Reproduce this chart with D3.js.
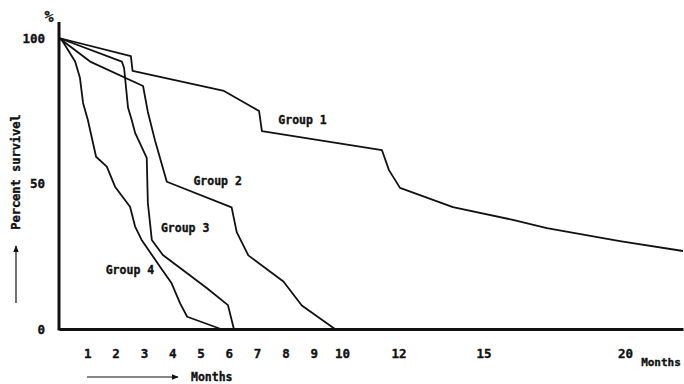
<!DOCTYPE html>
<html>
<head>
<meta charset="utf-8">
<script src="https://cdn.jsdelivr.net/npm/d3@7"></script>
<style>
  html, body { margin: 0; padding: 0; background: #fff; }
  svg { display: block; }
  text { font-family: "DejaVu Sans Mono", "Liberation Mono", monospace; font-weight: bold; fill: #111; stroke: #111; stroke-width: 0.35px; }
</style>
</head>
<body>
<svg id="chart" width="684" height="384"></svg>
<script>
// Survival curves: [month, percent surviving]
const group1 = [[0,100],[2.54,93.8],[2.6,88.7],[5.83,81.8],[7.07,74.9],[7.17,68.0],[11.41,61.5],[11.66,54.6],[12.05,48.5],[13.92,41.9],[16.04,37.5],[17.24,34.7],[19.82,30.2],[22.05,26.8]];
const group2 = [[0,100],[1.10,91.9],[2.97,83.5],[3.14,74.6],[3.39,64.9],[3.81,50.6],[6.10,41.8],[6.28,33.3],[6.69,25.3],[7.93,16.3],[8.58,8.1],[9.75,0]];
const group3 = [[0,100],[2.22,91.9],[2.30,89.7],[2.44,76.0],[2.57,71.8],[2.69,67.4],[3.10,58.8],[3.14,43.3],[3.28,30.6],[3.67,25.4],[5.22,14.1],[5.97,8.2],[6.18,0]];
const group4 = [[0,100],[0.10,99.3],[0.57,91.9],[0.74,86.3],[0.85,77.7],[1.02,71.8],[1.31,59.2],[1.69,55.8],[1.98,48.9],[2.51,42.0],[2.69,35.2],[2.92,30.6],[3.57,21.4],[3.98,15.7],[4.28,8.8],[4.53,4.2],[5.72,0]];

const seriesNames = ["Group 1", "Group 2", "Group 3", "Group 4"];
// label anchor for each group: [month, percent]
const labelAt = [[7.75, 70.5], [4.75, 49.5], [3.6, 33.5], [1.65, 19]];

const xTicks = [1,2,3,4,5,6,7,8,9,10,12,15,20];
const yTicks = [0, 50, 100];

const svg = d3.select("#chart");

const x = d3.scaleLinear().domain([0, 22.05]).range([59, 683]);
const y = d3.scaleLinear().domain([0, 100]).range([329, 38]);

// curves
const line = d3.line().x(d => x(d[0])).y(d => y(d[1]));
[group1, group2, group3, group4].forEach(g => {
  svg.append("path")
    .datum(g)
    .attr("d", line)
    .attr("fill", "none")
    .attr("stroke", "#111")
    .attr("stroke-width", 1.8)
    .attr("stroke-linejoin", "round");
});

// x axis: thick baseline, labels without tick marks
const xAxis = svg.append("g")
  .attr("transform", `translate(0,${y(0)})`)
  .call(d3.axisBottom(x).tickValues(xTicks).tickSize(0).tickSizeOuter(0).tickPadding(20).tickFormat(d3.format("d")));
xAxis.select(".domain").attr("stroke", "#111").attr("stroke-width", 3);
xAxis.selectAll(".tick text").style("font-size", "12.5px").attr("fill", "#111");

// y axis
const yAxis = svg.append("g")
  .attr("transform", `translate(${x(0)},0)`)
  .call(d3.axisLeft(y).tickValues(yTicks).tickSize(0).tickPadding(14).tickFormat(d3.format("d")));
yAxis.select(".domain").remove();
yAxis.selectAll(".tick text").style("font-size", "12.5px").attr("fill", "#111");
svg.append("line")
  .attr("x1", x(0)).attr("x2", x(0))
  .attr("y1", y(0) + 1.5).attr("y2", y(105.5))
  .attr("stroke", "#111").attr("stroke-width", 3);

// % unit
svg.append("text").attr("x", 49).attr("y", 22).attr("text-anchor", "middle")
  .style("font-size", "15px").text("%");

// "Months" at the end of the axis
svg.append("text").attr("x", 661).attr("y", 366).attr("text-anchor", "middle")
  .style("font-size", "11px").text("Months");

// group labels
seriesNames.forEach((name, i) => {
  svg.append("text")
    .attr("x", x(labelAt[i][0]))
    .attr("y", y(labelAt[i][1]))
    .style("font-size", "11.5px")
    .text(name);
});

// arrowhead marker
svg.append("defs").append("marker")
  .attr("id", "arrow")
  .attr("viewBox", "0 0 10 10")
  .attr("refX", 9).attr("refY", 5)
  .attr("markerWidth", 7).attr("markerHeight", 7)
  .attr("markerUnits", "userSpaceOnUse")
  .attr("orient", "auto")
  .append("path").attr("d", "M0,1 L10,5 L0,9 Z").attr("fill", "#111");

// horizontal arrow + Months
svg.append("line")
  .attr("x1", 87).attr("x2", 178).attr("y1", 377).attr("y2", 377)
  .attr("stroke", "#111").attr("stroke-width", 1.2)
  .attr("marker-end", "url(#arrow)");
svg.append("text").attr("x", 191).attr("y", 381)
  .style("font-size", "11.5px").text("Months");

// vertical arrow + Percent survivel
svg.append("line")
  .attr("x1", 16).attr("x2", 16).attr("y1", 303).attr("y2", 246)
  .attr("stroke", "#111").attr("stroke-width", 1.2)
  .attr("marker-end", "url(#arrow)");
svg.append("text")
  .attr("transform", "translate(20,172) rotate(-90)")
  .attr("text-anchor", "middle")
  .style("font-size", "12px")
  .text("Percent survivel");
</script>
</body>
</html>
